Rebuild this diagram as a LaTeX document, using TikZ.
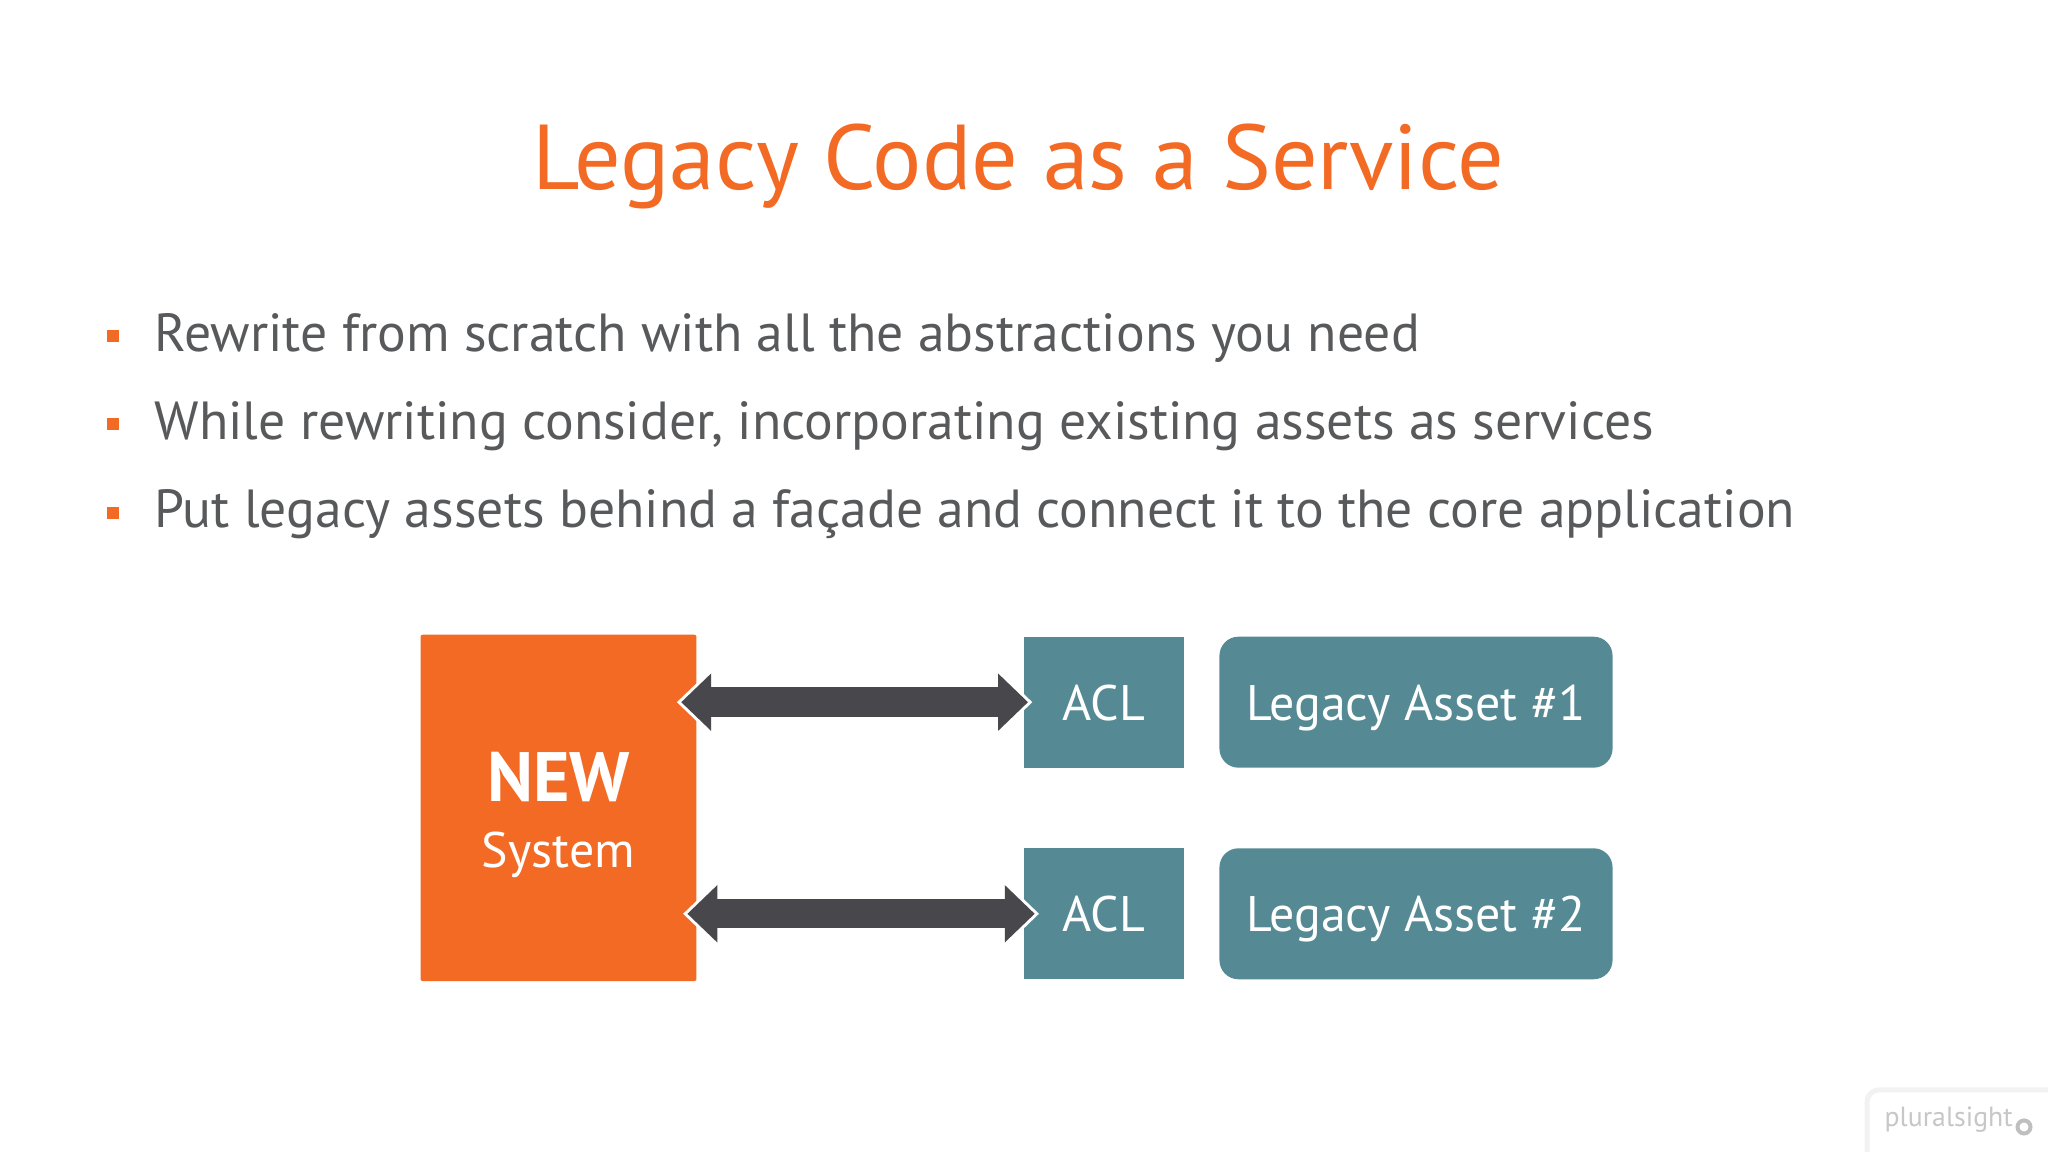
\documentclass[tikz,border=0pt]{standalone}
\usepackage{fontspec}
\usetikzlibrary{arrows.meta}
\setmainfont{PT Sans}
\definecolor{brandorange}{HTML}{F26A23}
\definecolor{slateteal}{HTML}{558A94}
\definecolor{arrowgrey}{HTML}{48474B}
\definecolor{bodygrey}{HTML}{58595B}
\tikzset{
  legacybox/.style={fill=slateteal,text=white,minimum width=#1,minimum height=1.31cm,inner sep=0pt,
    text height=0.36cm,text depth=0pt,font=\fontsize{14.2}{14.2}\selectfont},
  bulletmark/.style={fill=brandorange,minimum size=0.12cm,inner sep=0pt},
  bulletline/.style={text=bodygrey,anchor=base west,inner sep=0pt,font=\fontsize{15.27}{15.27}\selectfont},
  arrowhalo/.style={draw=white,line width=0.294cm,{Triangle[length=0.44cm,width=0.815cm]}-{Triangle[length=0.44cm,width=0.815cm]}},
  arrowlink/.style={draw=arrowgrey,line width=0.294cm,{Triangle[length=0.30cm,width=0.556cm]}-{Triangle[length=0.30cm,width=0.556cm]}}
}
\begin{document}
\begin{tikzpicture}
  \useasboundingbox (0,0) rectangle (20.48,11.52);
  \node[text=brandorange,font=\fontsize{26.2}{26.2}\selectfont,anchor=base] (title) at (10.185,9.62) {Legacy Code as a Service};
  % bullets
  \node[bulletmark] (markone) at (1.13,8.155) {};
  \node[bulletmark] (marktwo) at (1.13,7.275) {};
  \node[bulletmark] (markthree) at (1.13,6.39) {};
  \node[bulletline] (lineone) at (1.54,8.0) {Rewrite from scratch with all the abstractions you need};
  \node[bulletline] (linetwo) at (1.54,7.12) {While rewriting consider, incorporating existing assets as services};
  \node[bulletline] (linethree) at (1.54,6.24) {Put legacy assets behind a façade and connect it to the core application};
  % boxes
  \node[fill=brandorange,minimum width=2.759cm,minimum height=3.463cm,inner sep=0pt,rounded corners=0.02cm] (newsys) at (5.585,3.441) {};
  \node[text=white,anchor=base,inner sep=0pt,font=\fontsize{19.9}{19.9}\bfseries\selectfont] (newlabel) at (5.585,3.503) {NEW};
  \node[text=white,anchor=base,inner sep=0pt,font=\fontsize{14.2}{14.2}\selectfont] (syslabel) at (5.585,2.843) {System};
  \node[legacybox=1.603cm] (aclone) at (11.04,4.498) {ACL};
  \node[legacybox=1.603cm] (acltwo) at (11.04,2.382) {ACL};
  \node[legacybox=3.931cm,rounded corners=0.19cm] (assetone) at (14.16,4.498) {Legacy Asset \#1};
  \node[legacybox=3.931cm,rounded corners=0.19cm] (assettwo) at (14.16,2.382) {Legacy Asset \#2};
  % arrows
  \draw[arrowhalo] ([xshift=-0.204cm]newsys.east |- aclone.west) -- ([xshift=0.093cm]aclone.west);
  \draw[arrowlink] ([xshift=-0.16cm]newsys.east |- aclone.west) -- ([xshift=0.049cm]aclone.west);
  \draw[arrowhalo] ([xshift=-0.142cm]newsys.east |- acltwo.west) -- ([xshift=0.16cm]acltwo.west);
  \draw[arrowlink] ([xshift=-0.098cm]newsys.east |- acltwo.west) -- ([xshift=0.116cm]acltwo.west);
  % watermark
  \draw[black!5,line width=0.05cm,fill=white,rounded corners=0.12cm] (20.7,-0.2) -- (18.67,-0.2) -- (18.67,0.62) -- (20.7,0.62);
  \node[text=black!22,anchor=base west,inner sep=0pt,font=\fontsize{7.9}{7.9}\selectfont] (plurallogo) at (18.84,0.25) {pluralsight};
  \node[circle,draw=black!25,line width=0.04cm,fill=white,minimum size=0.13cm,inner sep=0pt] (playicon) at (20.24,0.25) {};
\end{tikzpicture}
\end{document}
